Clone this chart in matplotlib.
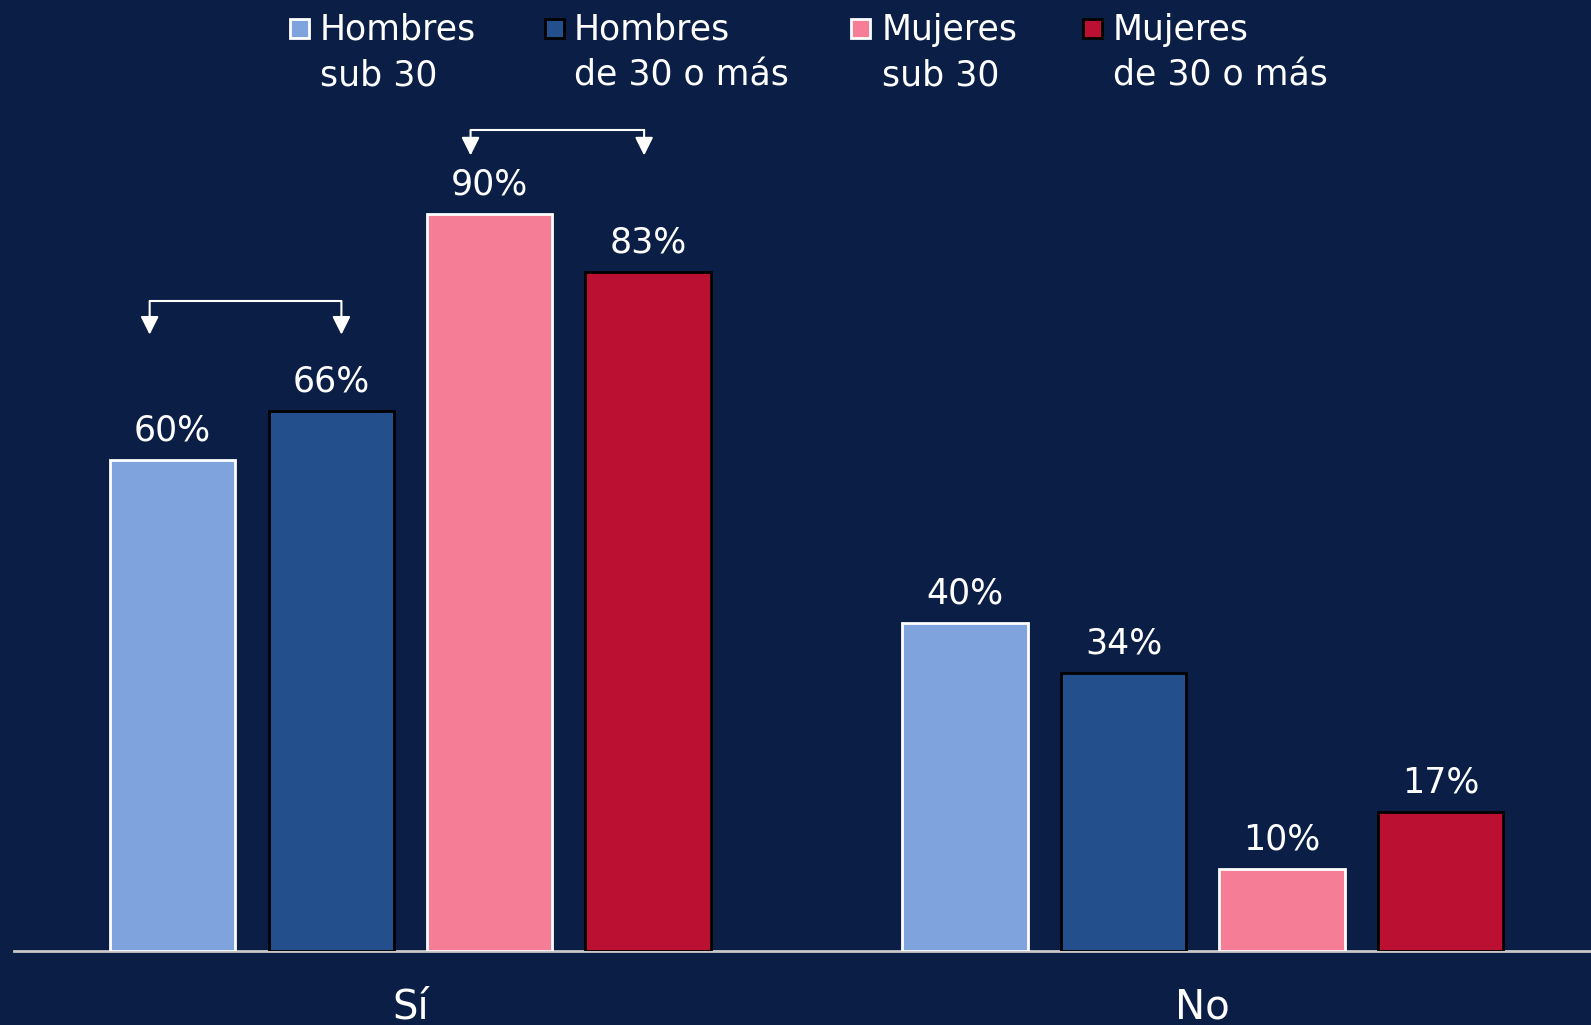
import numpy as np
import matplotlib
matplotlib.use("Agg")
import matplotlib.pyplot as plt
from matplotlib.patches import Rectangle

# data
categories = ["Sí", "No"]
series_names = ["Hombres\nsub 30", "Hombres\nde 30 o más", "Mujeres\nsub 30", "Mujeres\nde 30 o más"]
hombres_sub30 = [60, 40]
hombres_30mas = [66, 34]
mujeres_sub30 = [90, 10]
mujeres_30mas = [83, 17]
values = [hombres_sub30, hombres_30mas, mujeres_sub30, mujeres_30mas]

colors = ["#7FA3DD", "#244F8D", "#F57D96", "#BC1032"]
edges = ["white", "black", "white", "black"]
bg = "#0B1F46"

plt.rcParams['font.family'] = ['DejaVu Sans']

fig = plt.figure(figsize=(15.91, 10.25), dpi=100, facecolor=bg)
ax = fig.add_axes([0.0089, 0.0725, 0.9911, 0.9275])
ax.set_facecolor(bg)

x = np.arange(len(categories))
offsets = [-0.3, -0.1, 0.1, 0.3]
width = 0.158

for vals, off, c, ec in zip(values, offsets, colors, edges):
    bars = ax.bar(x + off, vals, width, color=c, edgecolor=ec, linewidth=2, zorder=3)
    for b, v in zip(bars, vals):
        ax.annotate(f"{v}%", (b.get_x() + b.get_width() / 2, v),
                    xytext=(0, 14), textcoords="offset points",
                    ha="center", va="baseline", color="white", fontsize=25)

ax.set_xlim(-0.5, 1.49)
ax.set_ylim(0, 116.2)
for s in ["top", "right", "left"]:
    ax.spines[s].set_visible(False)
ax.spines["bottom"].set_color("#C8C8C8")
ax.spines["bottom"].set_linewidth(2)
ax.set_yticks([])
ax.set_xticks([])

# category labels under the axis (cut by the lower edge, as in the original)
for xi, cat in zip(x, categories):
    ax.annotate(cat, (xi, 0), xytext=(0, -49), textcoords="offset points",
                ha="center", va="baseline", color="white", fontsize=29,
                annotation_clip=False)

# brackets with arrows
brackets = [(-0.329, -0.087, 79.4, 75.3), (0.076, 0.295, 100.3, 97.2)]
for x1, x2, yh, yt in brackets:
    ax.plot([x1, x2], [yh, yh], color="white", lw=1.5, zorder=4)
    for xx in (x1, x2):
        ax.annotate("", xy=(xx, yt), xytext=(xx, yh),
                    arrowprops=dict(arrowstyle="-|>,head_length=1.1,head_width=0.55",
                                    color="white", lw=1.5, shrinkA=0, shrinkB=0))

# legend drawn by hand, square next to the first line
W, H = 1591, 1025
sq_x = [290, 545, 851, 1083]
tx_x = [320, 574, 882, 1113]
for name, c, ec, sx, tx in zip(series_names, colors, edges, sq_x, tx_x):
    fig.patches.append(Rectangle((sx / W, 1 - 38 / H), 19 / W, 19 / H,
                                 facecolor=c, edgecolor=ec, linewidth=2,
                                 transform=fig.transFigure))
    # baseline alignment uses the last line here
    fig.text(tx / W, 1 - 86 / H, name, color="white", fontsize=25,
             ha="left", va="baseline", linespacing=1.45)

fig.savefig("out.png", dpi=100, facecolor=bg)
